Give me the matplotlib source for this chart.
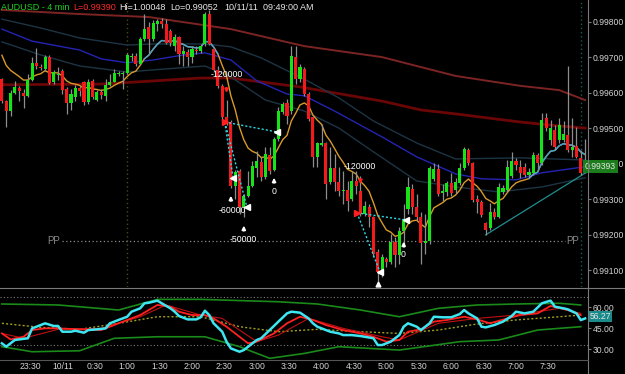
import matplotlib
matplotlib.use("Agg")
import matplotlib.pyplot as plt
import matplotlib.transforms as mtrans
from matplotlib.lines import Line2D
import numpy as np

plt.rcParams['font.family'] = ['Liberation Sans', 'DejaVu Sans']

# ---------------- data ----------------
first_bar = "23:04"
bar_minutes = 4

opens = [0.99639,0.99577,0.99549,0.99600,0.99614,0.99600,0.99592,0.99637,0.99685,0.99673,
         0.99668,0.99701,0.99631,0.99651,0.99662,0.99611,0.99572,0.99589,0.99614,0.99631,
         0.99575,0.99634,0.99580,0.99603,0.99592,0.99623,0.99631,0.99654,0.99654,0.99656,
         0.99701,0.99704,0.99682,0.99752,0.99786,0.99752,0.99794,0.99803,0.99794,0.99775,
         0.99732,0.99758,0.99710,0.99715,0.99701,0.99721,0.99718,0.99738,0.99823,0.99724,
         0.99665,0.99620,0.99532,0.99518,0.99338,0.99380,0.99279,0.99310,0.99338,0.99389,
         0.99406,0.99363,0.99425,0.99383,0.99470,0.99546,0.99572,0.99549,0.99701,0.99639,
         0.99668,0.99597,0.99532,0.99420,0.99454,0.99459,0.99349,0.99389,0.99349,0.99324,
         0.99327,0.99301,0.99352,0.99324,0.99259,0.99279,0.99251,0.99152,0.99090,0.99132,
         0.99124,0.99180,0.99144,0.99211,0.99273,0.99330,0.99279,0.99251,0.99177,0.99183,
         0.99358,0.99386,0.99318,0.99321,0.99346,0.99327,0.99346,0.99389,0.99439,0.99403,
         0.99301,0.99293,0.99234,0.99220,0.99265,0.99251,0.99321,0.99327,0.99366,0.99408,
         0.99392,0.99392,0.99369,0.99375,0.99425,0.99403,0.99530,0.99468,0.99496,0.99468,
         0.99468,0.99482,0.99439,0.99451,0.99417,0.99375]
highs = [0.99642,0.99580,0.99608,0.99634,0.99620,0.99611,0.99654,0.99701,0.99727,0.99682,
         0.99707,0.99707,0.99665,0.99673,0.99668,0.99617,0.99611,0.99623,0.99620,0.99634,
         0.99639,0.99639,0.99608,0.99611,0.99639,0.99654,0.99668,0.99662,0.99662,0.99713,
         0.99713,0.99713,0.99758,0.99823,0.99800,0.99806,0.99808,0.99811,0.99808,0.99780,
         0.99766,0.99761,0.99732,0.99724,0.99732,0.99732,0.99738,0.99828,0.99834,0.99727,
         0.99676,0.99625,0.99580,0.99524,0.99383,0.99386,0.99315,0.99380,0.99408,0.99437,
         0.99420,0.99448,0.99448,0.99476,0.99561,0.99575,0.99583,0.99732,0.99732,0.99682,
         0.99673,0.99603,0.99535,0.99462,0.99513,0.99462,0.99448,0.99428,0.99392,0.99380,
         0.99352,0.99380,0.99380,0.99366,0.99296,0.99287,0.99254,0.99161,0.99146,0.99138,
         0.99203,0.99194,0.99223,0.99287,0.99363,0.99344,0.99315,0.99265,0.99259,0.99394,
         0.99403,0.99400,0.99344,0.99352,0.99375,0.99361,0.99403,0.99448,0.99445,0.99406,
         0.99313,0.99299,0.99237,0.99290,0.99276,0.99346,0.99341,0.99411,0.99434,0.99417,
         0.99411,0.99403,0.99389,0.99434,0.99431,0.99544,0.99544,0.99524,0.99510,0.99530,
         0.99521,0.99676,0.99530,0.99504,0.99439,0.99470]
lows = [0.99572,0.99504,0.99535,0.99597,0.99577,0.99558,0.99589,0.99634,0.99668,0.99665,
        0.99662,0.99625,0.99625,0.99637,0.99597,0.99541,0.99552,0.99577,0.99592,0.99566,
        0.99569,0.99583,0.99577,0.99583,0.99577,0.99620,0.99631,0.99648,0.99611,0.99654,
        0.99690,0.99676,0.99679,0.99746,0.99710,0.99746,0.99775,0.99783,0.99738,0.99732,
        0.99718,0.99682,0.99676,0.99676,0.99685,0.99710,0.99713,0.99732,0.99735,0.99662,
        0.99614,0.99521,0.99510,0.99332,0.99301,0.99259,0.99251,0.99307,0.99335,0.99363,
        0.99352,0.99358,0.99372,0.99380,0.99465,0.99541,0.99513,0.99541,0.99625,0.99631,
        0.99592,0.99521,0.99392,0.99392,0.99451,0.99301,0.99344,0.99324,0.99310,0.99287,
        0.99268,0.99296,0.99315,0.99254,0.99254,0.99223,0.99138,0.99058,0.99082,0.99110,
        0.99118,0.99110,0.99118,0.99166,0.99259,0.99259,0.99239,0.99118,0.99146,0.99175,
        0.99352,0.99310,0.99296,0.99310,0.99310,0.99318,0.99341,0.99383,0.99397,0.99293,
        0.99262,0.99251,0.99200,0.99214,0.99245,0.99248,0.99315,0.99321,0.99361,0.99383,
        0.99361,0.99363,0.99361,0.99369,0.99383,0.99397,0.99493,0.99454,0.99439,0.99459,
        0.99462,0.99434,0.99420,0.99417,0.99369,0.99375]
closes = [0.99577,0.99549,0.99600,0.99617,0.99606,0.99592,0.99637,0.99685,0.99676,0.99670,
          0.99701,0.99628,0.99659,0.99654,0.99608,0.99572,0.99597,0.99614,0.99606,0.99575,
          0.99631,0.99589,0.99603,0.99594,0.99623,0.99631,0.99656,0.99656,0.99656,0.99707,
          0.99704,0.99682,0.99752,0.99780,0.99752,0.99797,0.99803,0.99794,0.99741,0.99741,
          0.99758,0.99710,0.99718,0.99701,0.99724,0.99718,0.99732,0.99823,0.99738,0.99665,
          0.99620,0.99532,0.99518,0.99338,0.99377,0.99279,0.99310,0.99338,0.99394,0.99408,
          0.99363,0.99428,0.99380,0.99470,0.99549,0.99569,0.99535,0.99704,0.99639,0.99673,
          0.99597,0.99527,0.99420,0.99459,0.99459,0.99344,0.99389,0.99349,0.99324,0.99327,
          0.99296,0.99352,0.99338,0.99259,0.99282,0.99251,0.99146,0.99096,0.99138,0.99124,
          0.99180,0.99144,0.99211,0.99245,0.99335,0.99279,0.99251,0.99177,0.99183,0.99389,
          0.99386,0.99315,0.99324,0.99346,0.99318,0.99349,0.99389,0.99442,0.99403,0.99299,
          0.99293,0.99256,0.99214,0.99265,0.99251,0.99335,0.99332,0.99392,0.99408,0.99397,
          0.99375,0.99369,0.99377,0.99425,0.99403,0.99524,0.99501,0.99501,0.99448,0.99510,
          0.99484,0.99439,0.99448,0.99420,0.99375,0.99393]

tick_times = ["23:30", "0:00", "0:30", "1:00", "1:30", "2:00", "2:30", "3:00", "3:30",
              "4:00", "4:30", "5:00", "5:30", "6:00", "6:30", "7:00", "7:30"]
tick_labels = ["23:30", "10/11", "0:30", "1:00", "1:30", "2:00", "2:30", "3:00", "3:30",
               "4:00", "4:30", "5:00", "5:30", "6:00", "6:30", "7:00", "7:30"]
price_ticks = [0.991, 0.992, 0.993, 0.994, 0.995, 0.996, 0.997, 0.998]
session_times = ["1:00", "8:00"]

# long moving averages (sampled at bar indices)
ma_slow_idx = [0, 17, 34, 53, 70, 88, 105, 120, 129, 135]
ma_slow_px = [0.99834, 0.99823, 0.99814, 0.99780, 0.99732, 0.99701, 0.99648, 0.99620, 0.99608, 0.99580]
ma_mid_idx = [0, 23, 46, 53, 69, 88, 97, 105, 120, 129, 135]
ma_mid_px = [0.99623, 0.99625, 0.99642, 0.99642, 0.99617, 0.99577, 0.99552, 0.99541, 0.99518, 0.99507, 0.99501]
band_mid_idx = [0, 7, 18, 23, 29, 35, 42, 47, 53, 59, 66, 70, 77, 88, 96, 105, 111, 119, 125, 135]
band_mid_px = [0.99780, 0.99746, 0.99721, 0.99696, 0.99685, 0.99693, 0.99707, 0.99713, 0.99693, 0.99634,
               0.99597, 0.99592, 0.99549, 0.99476, 0.99420, 0.99372, 0.99358, 0.99355, 0.99375, 0.99392]
band_up_idx = [0, 9, 18, 29, 35, 47, 53, 60, 70, 78, 86, 96, 105, 120, 135]
band_up_px = [0.99808, 0.99783, 0.99755, 0.99735, 0.99738, 0.99738, 0.99730, 0.99699, 0.99639, 0.99586,
              0.99521, 0.99459, 0.99414, 0.99417, 0.99411]
band_lo_idx = [0, 9, 18, 29, 35, 47, 53, 61, 70, 78, 86, 96, 105, 115, 125, 135]
band_lo_px = [0.99744, 0.99707, 0.99676, 0.99659, 0.99665, 0.99676, 0.99645, 0.99580, 0.99549, 0.99501,
              0.99434, 0.99352, 0.99335, 0.99321, 0.99335, 0.99361]

ema_period = 10
ema_seed = 0.99735
ema_light_ranges = [(33, 50), (122, 135)]

trend_idx = [112, 135.4]
trend_px = [0.99200, 0.99377]

pp_level = 0.99183
pp_span = (14, 130.3)

# trades
entry_idx = [51.6, 82.2]
entry_px = [0.99518, 0.99262]
exit_idx = [53.5, 56.7, 63.7, 87.5, 93.5]
exit_px = [0.99361, 0.99279, 0.99490, 0.99096, 0.99242]
exit_entry = [0, 0, 0, 1, 1]
sell_arrow_idx = [52, 83]
sell_arrow_px = [0.99592, 0.99335]
buy_arrow_idx = [53, 56, 63, 93]
buy_arrow_px = [0.99318, 0.99234, 0.99369, 0.99189]
trade_text = ["-120000", "-60000", "-50000", "0", "-120000", "0"]
trade_text_idx = [52.1, 53.3, 55.9, 63.0, 82.9, 92.8]
trade_text_px = [0.99651, 0.99270, 0.99186, 0.99322, 0.99394, 0.99144]
low_mark_idx = 87.1
low_mark_px = 0.99062
last_price = 0.99393

# oscillator
rsi_idx = [0,1,3,6,7,9,10,12,13,14,16,17,19,20,22,24,25,27,29,30,32,33,34,36,37,39,40,41,43,45,
           46,47,48,49,51,52,53,55,56,58,59,60,62,64,66,67,69,71,72,73,75,76,78,79,81,83,84,86,87,88,
           90,92,93,94,96,97,99,100,102,104,106,107,108,110,111,112,114,116,118,119,121,123,125,127,128,
           130,131,133,134,135]
rsi_val = [34.3,31.9,36.7,37.9,45.0,47.4,48.6,46.7,46.7,42.6,42.6,43.3,41.9,43.8,44.3,45.0,48.6,51.0,53.3,56.9,
           59.3,62.9,63.3,64.8,62.9,59.3,56.9,53.8,51.4,51.4,52.9,57.6,54.5,48.6,42.6,35.5,30.7,28.3,29.5,34.3,
           36.7,37.9,43.8,49.8,55.7,56.9,56.2,52.1,48.6,46.2,43.8,42.6,41.4,40.2,40.2,39.5,39.0,37.9,33.1,33.1,
           35.5,40.2,46.2,48.6,46.2,43.8,48.6,53.3,52.9,52.9,55.2,58.1,55.7,52.1,46.2,45.7,47.4,49.8,53.8,56.9,
           55.7,56.9,62.9,64.8,60.5,59.3,58.6,55.7,50.9,52.1]
sig_idx = [0,2,5,7,10,13,18,23,27,32,36,39,41,44,47,49,52,55,57,59,63,66,69,72,75,79,83,86,89,92,
           94,97,100,103,107,110,113,117,120,124,127,131,134]
sig_val = [41.4,37.1,39.0,43.8,45.0,45.0,44.3,43.8,48.6,54.5,61.7,60.5,56.9,54.5,54.5,52.1,46.2,39.0,34.3,35.5,
           41.4,48.6,53.3,51.0,47.4,43.8,41.4,39.0,35.5,36.7,42.6,44.3,49.8,51.0,53.3,51.4,48.6,52.1,54.5,55.7,
           61.0,58.1,54.5]
slow_idx = [0,5,13,23,32,38,46,51,59,64,71,79,88,92,101,110,119,129,134]
slow_val = [41.4,37.9,44.3,45.0,53.3,61.7,54.5,52.1,35.5,40.2,52.1,45.0,39.0,36.7,48.6,52.1,54.5,59.3,55.7]
osc_mid_idx = [0,9,18,27,36,46,55,64,73,83,92,101,110,119,129,134]
osc_mid_val = [48.6,45.7,44.3,48.6,53.3,53.3,46.2,42.6,44.3,42.6,41.4,43.8,48.1,51.0,53.3,54.5]
osc_up_idx = [0,13,27,36,46,64,73,83,92,101,110,119,129,134]
osc_up_val = [62.4,61.7,58.1,65.7,65.7,64.0,62.4,58.1,53.3,59.3,61.7,62.4,62.9,61.7]
osc_lo_idx = [0,7,18,26,36,47,55,62,70,78,92,106,115,124,134]
osc_lo_val = [31.9,28.3,29.0,37.9,39.0,39.0,31.9,23.6,27.1,31.9,29.5,35.5,36.7,43.8,46.2]
osc_levels = [67.6, 33.1]
osc_ticks = [30, 45, 60]
osc_last = 56.27

# ---------------- helpers ----------------
def bar_index(t):
    hh, mm = map(int, t.split(":"))
    fh, fm = map(int, first_bar.split(":"))
    return ((hh * 60 + mm - (fh * 60 + fm)) % 1440) / bar_minutes

W, H = 625, 374
def rect(x0, y0, x1, y1):
    return [x0 / W, 1 - y1 / H, (x1 - x0) / W, (y1 - y0) / H]

BG = "black"
AXC = "#7a7a7a"
TXT = "#d4d4d4"
FS = 6.2

fig = plt.figure(figsize=(6.25, 3.74), dpi=100, facecolor=BG)
ax = fig.add_axes(rect(0, 0, 588, 287), facecolor=BG)
axo = fig.add_axes(rect(0, 290, 588, 360), facecolor=BG, sharex=ax)

n = len(closes)
idx = np.arange(n)
o, h, l, c = map(np.array, (opens, highs, lows, closes))

# long MAs & bands
ax.plot(ma_slow_idx, ma_slow_px, color="#7c2424", lw=1.4, zorder=1)
ax.plot(ma_mid_idx, ma_mid_px, color="#6a0606", lw=2.0, zorder=1)
ax.plot(band_up_idx, band_up_px, color="#1d3444", lw=1.0, zorder=1)
ax.plot(band_lo_idx, band_lo_px, color="#1d3444", lw=1.0, zorder=1)
ax.plot(band_mid_idx, band_mid_px, color="#2424b4", lw=1.0, zorder=1)
ax.plot(trend_idx, trend_px, color="#1f8f8f", lw=0.9, zorder=1)

# session lines
ax.axvline(bar_index(session_times[0]), color="#4a4a14", lw=1, ls=(0, (1, 2)), zorder=0)
ax.axvline(bar_index(session_times[1]), color="#1a5c5c", lw=1, ls=(0, (1, 2)), zorder=0)

# PP line
ax.hlines(pp_level, pp_span[0], pp_span[1], color="#8a8a8a", lw=0.9, ls=(0, (1, 2)), zorder=1)
ax.text(pp_span[0] - 0.6, pp_level, "PP", color="#8a8a8a", fontsize=7, ha="right", va="center")
ax.text(pp_span[1] + 0.4, pp_level, "PP", color="#8a8a8a", fontsize=7, ha="left", va="center")

# short EMA
alpha = 2.0 / (ema_period + 1)
ema = []
prev = ema_seed
for cl in closes:
    prev = prev + alpha * (cl - prev)
    ema.append(prev)
ema = np.array(ema)
ax.plot(idx, ema, color="#d89a2a", lw=1.0, zorder=2)
for a, b in ema_light_ranges:
    ax.plot(idx[a:b + 1], ema[a:b + 1], color="#3ea2dc", lw=1.0, zorder=2.1)

# candles
ax.vlines(idx, l, h, color="#8e8e8e", lw=0.9, zorder=3)
bottoms = np.minimum(o, c)
heights = np.maximum(np.abs(c - o), 0.00003)
colors = np.where(c >= o, "#16e416", "#f21a1a")
ax.bar(idx, heights, bottom=bottoms, width=0.72, color=colors, linewidth=0, zorder=4)

# trades
for k, e in enumerate(exit_entry):
    ax.plot([entry_idx[e], exit_idx[k]], [entry_px[e], exit_px[k]], color="#30d8e8",
            lw=1.0, ls=(0, (1.5, 1.5)), zorder=5)
ax.plot(entry_idx, entry_px, ls="none", marker=">", color="#ff2020", ms=4, zorder=6)
ax.plot(exit_idx, exit_px, ls="none", marker="<", color="white", ms=4, zorder=6)
ax.plot([low_mark_idx], [low_mark_px], ls="none", marker="^", color="white", ms=3.5, zorder=6)
alen = 0.00030
for xi, yi in zip(buy_arrow_idx, buy_arrow_px):
    ax.annotate("", xy=(xi, yi), xytext=(xi, yi - alen),
                arrowprops=dict(arrowstyle="-|>", color="white", lw=1.3, mutation_scale=5), zorder=6)
for xi, yi in zip(sell_arrow_idx, sell_arrow_px):
    ax.annotate("", xy=(xi, yi), xytext=(xi, yi + alen),
                arrowprops=dict(arrowstyle="-|>", color="#ff2020", lw=1.3, mutation_scale=5), zorder=6)
for t, xi, yi in zip(trade_text, trade_text_idx, trade_text_px):
    ax.text(xi, yi, t, color="white", fontsize=6.3, ha="center", va="center", zorder=7)

# axes styling main
ax.set_xlim(-0.44, 135.67)
ax.set_ylim(0.99053, 0.99862)
ax.yaxis.tick_right()
ax.set_yticks(price_ticks)
ax.set_yticklabels(["%.5f" % p for p in price_ticks])
ax.tick_params(axis="y", colors=TXT, labelsize=FS, length=2, width=0.8, pad=1.5)
ax.tick_params(axis="y", which="both", color=AXC)
ax.tick_params(axis="x", length=0, labelbottom=False)
for s in ax.spines.values():
    s.set_visible(False)

# last price box
tr = mtrans.blended_transform_factory(fig.transFigure, ax.transData)
ax.text(585 / W, last_price, "%.5f" % last_price, transform=tr, color="#e6e6e6", fontsize=FS,
        ha="left", va="center", zorder=10,
        bbox=dict(facecolor="#1c7c1c", edgecolor="none", boxstyle="square,pad=0.2"))

# oscillator
for lv in osc_levels:
    axo.axhline(lv, color="#7a7a7a", lw=0.8, ls=(0, (1, 2)), zorder=0)
axo.plot(osc_up_idx, osc_up_val, color="#1a8a1a", lw=1.2, zorder=1)
axo.plot(osc_lo_idx, osc_lo_val, color="#1a8a1a", lw=1.2, zorder=1)
axo.plot(osc_mid_idx, osc_mid_val, color="#a0a020", lw=1.0, ls=(0, (1.5, 1.5)), zorder=1)
axo.plot(slow_idx, slow_val, color="#c01010", lw=0.8, zorder=2)
axo.plot(sig_idx, sig_val, color="#ff2020", lw=1.3, zorder=3)
axo.plot(rsi_idx, rsi_val, color="#3ee6f2", lw=1.8, zorder=4)
axo.set_ylim(22.4, 72.4)
axo.yaxis.tick_right()
axo.set_yticks(osc_ticks)
axo.set_yticklabels(["%.2f" % v for v in osc_ticks])
axo.tick_params(axis="y", colors=TXT, labelsize=FS, length=2, width=0.8, pad=1.5)
axo.tick_params(axis="y", color=AXC)
axo.set_xticks([bar_index(t) for t in tick_times])
axo.set_xticklabels(tick_labels)
axo.tick_params(axis="x", colors=TXT, labelsize=FS, length=0, pad=1.5)
for s in axo.spines.values():
    s.set_visible(False)
# value box placed just below the 60.00 label, as the platform nudges it
tro = mtrans.blended_transform_factory(fig.transFigure, axo.transData)
axo.text(590 / W, osc_last - 2.6, "%.2f" % osc_last, transform=tro, color="#e6e6e6", fontsize=FS,
         ha="left", va="center", zorder=10,
         bbox=dict(facecolor="#1a8a8a", edgecolor="none", boxstyle="square,pad=0.1"))

# frame lines
fig.add_artist(Line2D([588 / W, 588 / W], [0, 1], color=AXC, lw=0.8, transform=fig.transFigure))
fig.add_artist(Line2D([0, 1], [1 - 288 / H, 1 - 288 / H], color=AXC, lw=0.8, transform=fig.transFigure))
fig.add_artist(Line2D([0, 588 / W], [1 - 360 / H, 1 - 360 / H], color="#555555", lw=0.8, transform=fig.transFigure))

# title
ty = 1 - 7 / H
fig.text(1 / W, ty, "AUDUSD - 4 min", color="#1ed21e", fontsize=6.5, va="center")
fig.text(73 / W, ty, "L=%.5f" % 0.99390, color="#ff2a2a", fontsize=6.5, va="center")
fig.text(119 / W, ty, "Hi=1.00048", color="#e8e8e8", fontsize=6.5, va="center")
fig.text(170 / W, ty, "Lo=0.99052", color="#e8e8e8", fontsize=6.5, va="center")
fig.text(224 / W, ty, "10/11/11", color="#e8e8e8", fontsize=6.5, va="center")
fig.text(263 / W, ty, "09:49:00 AM", color="#e8e8e8", fontsize=6.5, va="center")

fig.savefig("out.png", dpi=100, facecolor=BG)
